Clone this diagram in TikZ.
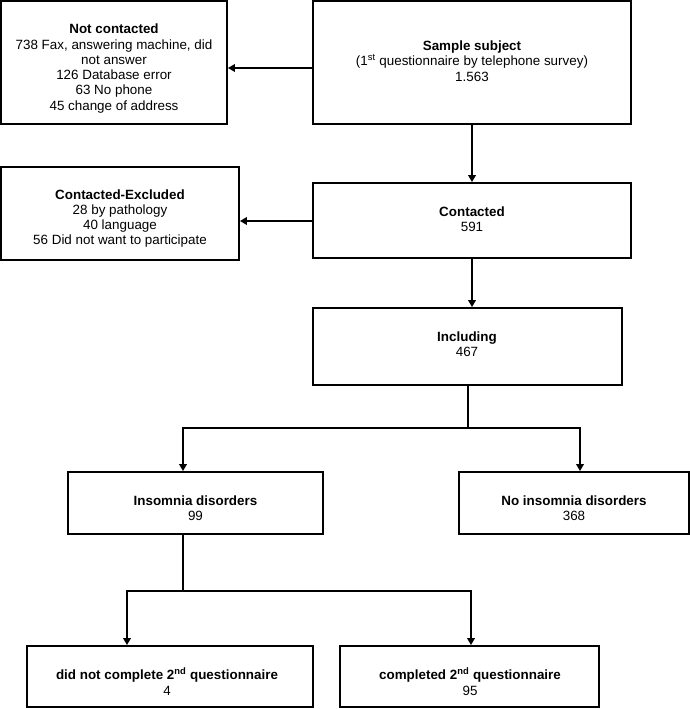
\documentclass[tikz,border=0pt]{standalone}
\usepackage{fontspec}
\setmainfont{Liberation Sans}
\usetikzlibrary{arrows.meta}
\begin{document}
\begin{tikzpicture}[x=1pt,y=-1pt,
  box/.style={draw, line width=1.8pt, inner sep=0pt, minimum width=#1},
  txt/.style={align=center, inner sep=0pt, font=\fontsize{13.4}{15.3}\selectfont},
  conn/.style={line width=2pt, -{Triangle[length=7pt,width=7.5pt]}}]
\useasboundingbox (0,0) rectangle (690,709);
% boxes
\node[box=226pt, minimum height=123pt] (NC) at (114,62.5) {};
\node[box=318pt, minimum height=123pt] (SS) at (472,62.5) {};
\node[box=238pt, minimum height=93pt] (CE) at (120,213.5) {};
\node[box=318pt, minimum height=75pt] (CT) at (472,220.5) {};
\node[box=309pt, minimum height=77pt] (IN) at (467.5,346.5) {};
\node[box=255pt, minimum height=62pt] (ID) at (195.5,503) {};
\node[box=230pt, minimum height=62pt] (NI) at (574,503) {};
\node[box=286pt, minimum height=61pt] (DN) at (170,676.5) {};
\node[box=259pt, minimum height=61pt] (CO) at (469.5,676.5) {};
% texts
\node[txt] (NCt) at (114,68.5) {\textbf{Not contacted}\\738 Fax, answering machine, did\\not answer\\126 Database error\\63 No phone\\45 change of address};
\node[txt] (SSt) at (472,61) {\textbf{Sample subject}\\(1\textsuperscript{st} questionnaire by telephone survey)\\1.563};
\node[txt] (CEt) at (120,218.5) {\textbf{Contacted-Excluded}\\28 by pathology\\40 language\\56 Did not want to participate};
\node[txt] (CTt) at (472,219.5) {\textbf{Contacted}\\591};
\node[txt] (INt) at (467,344.5) {\textbf{Including}\\467};
\node[txt] (IDt) at (195.5,508.5) {\textbf{Insomnia disorders}\\99};
\node[txt] (NIt) at (574,508.5) {\textbf{No insomnia disorders}\\368};
\node[txt] (DNt) at (167,681.5) {\textbf{did not complete 2\textsuperscript{nd} questionnaire}\\4};
\node[txt] (COt) at (470,681.5) {\textbf{completed 2\textsuperscript{nd} questionnaire}\\95};
% helper coordinates
\coordinate (a1) at (0,68);
\coordinate (a2) at (0,221);
\coordinate (mx) at (468,0);
\coordinate (jL) at (183,428);
\coordinate (jR) at (580,428);
\coordinate (kL) at (127,591);
\coordinate (kR) at (471,591);
% connectors
\draw[conn] (SS.west |- a1) -- (NC.east |- a1);
\draw[conn] (SS.south) -- (CT.north);
\draw[conn] (CT.west |- a2) -- (CE.east |- a2);
\draw[conn] (CT.south) -- (CT.south |- IN.north);
\draw[conn] (mx |- IN.south) |- (jL) -- (jL |- ID.north);
\draw[conn] (mx |- IN.south) |- (jR) -- (jR |- NI.north);
\draw[conn] (jL |- ID.south) |- (kL) -- (kL |- DN.north);
\draw[conn] (jL |- ID.south) |- (kR) -- (kR |- CO.north);
\end{tikzpicture}
\end{document}
